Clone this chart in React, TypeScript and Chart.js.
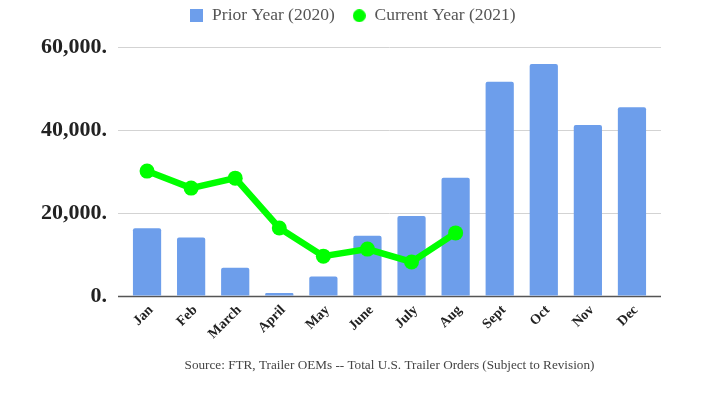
import React, { useEffect, useRef } from "react";
import { Chart, registerables } from "chart.js";

Chart.register(...registerables);

const months = ["Jan", "Feb", "March", "April", "May", "June", "July", "Aug", "Sept", "Oct", "Nov", "Dec"];
const priorYear2020 = [16300, 14100, 6800, 700, 4700, 14500, 19300, 28500, 51600, 55900, 41200, 45500];
const currentYear2021 = [30100, 26000, 28400, 16400, 9600, 11300, 8200, 15200];
const yTicks = [0, 20000, 40000, 60000];

const FONT = "'Liberation Serif', 'Times New Roman', serif";
const BAR_COLOR = "#6d9eeb";
const LINE_COLOR = "#00ff00";

function makeMarker(kind: "rect" | "circle", color: string) {
  const c = document.createElement("canvas");
  c.width = 13;
  c.height = 13;
  const g = c.getContext("2d")!;
  g.fillStyle = color;
  if (kind === "rect") {
    g.fillRect(0, 0, 13, 13);
  } else {
    g.beginPath();
    g.arc(6.5, 6.5, 6.5, 0, Math.PI * 2);
    g.fill();
  }
  return c;
}

const gridPlugin = {
  id: "extendedGrid",
  beforeDatasetsDraw(chart: any) {
    const { ctx, chartArea, scales } = chart;
    const y = scales.y;
    ctx.save();
    yTicks.forEach((v) => {
      const py = Math.round(y.getPixelForValue(v)) + 0.5;
      ctx.beginPath();
      ctx.strokeStyle = v === 0 ? "#555" : "#d3d3d3";
      ctx.lineWidth = v === 0 ? 1.5 : 1;
      ctx.moveTo(chartArea.left - 7, py);
      ctx.lineTo(chartArea.right + 7, py);
      ctx.stroke();
    });
    ctx.restore();
  },
  beforeLayout(chart: any) {
    const lg = chart.legend;
    if (lg && !lg.__patched) {
      const orig = lg.fit;
      lg.fit = function () {
        orig.call(this);
        this.height = 58;
      };
      lg.__patched = true;
    }
  },
};

export default function App() {
  const ref = useRef<HTMLCanvasElement | null>(null);
  useEffect(() => {
    if (!ref.current) return;
    const markers = [makeMarker("rect", BAR_COLOR), makeMarker("circle", LINE_COLOR)];
    const chart = new Chart(ref.current, {
      type: "bar",
      plugins: [gridPlugin],
      data: {
        labels: months,
        datasets: [
          {
            type: "bar",
            label: "Prior Year (2020)",
            data: priorYear2020,
            backgroundColor: BAR_COLOR,
            borderRadius: 2,
            barPercentage: 0.64,
            categoryPercentage: 1,
            order: 1,
          } as any,
          {
            type: "line",
            label: "Current Year (2021)",
            data: currentYear2021,
            borderColor: LINE_COLOR,
            backgroundColor: LINE_COLOR,
            borderWidth: 6.5,
            pointRadius: 7.5,
            pointBackgroundColor: LINE_COLOR,
            pointBorderWidth: 0,
            order: 0,
          } as any,
        ],
      },
      options: {
        responsive: false,
        animation: false,
        layout: { padding: { top: -11, right: 0, left: 0, bottom: 0 } },
        plugins: {
          tooltip: { enabled: false },
          legend: {
            position: "top",
            labels: {
              usePointStyle: true,
              boxWidth: 13,
              boxHeight: 13,
              padding: 18,
              color: "#555",
              font: { family: FONT, size: 17.5 },
              sort: (a: any, b: any) => a.datasetIndex - b.datasetIndex,
              generateLabels: (ch: any) => {
                const items = Chart.defaults.plugins.legend.labels.generateLabels(ch);
                items.forEach((it: any) => {
                  it.pointStyle = markers[it.datasetIndex];
                });
                return items;
              },
            },
          },
        },
        scales: {
          x: {
            grid: { display: false, drawTicks: false },
            border: { display: false },
            ticks: {
              minRotation: 45,
              maxRotation: 45,
              padding: 6,
              labelOffset: 4,
              color: "#222",
              font: { family: FONT, size: 14, weight: "bold" },
            },
            title: {
              display: true,
              text: "Source: FTR, Trailer OEMs -- Total U.S. Trailer Orders (Subject to Revision)",
              color: "#444",
              font: { family: FONT, size: 13.2 },
              padding: { top: 0, bottom: 24 },
            },
            afterFit: (scale: any) => {
              scale.height = 101;
            },
          },
          y: {
            min: 0,
            max: 60000,
            border: { display: false },
            grid: { color: "rgba(0,0,0,0)", drawTicks: false },
            afterBuildTicks: (scale: any) => {
              scale.ticks = yTicks.map((v) => ({ value: v }));
            },
            ticks: {
              padding: 18,
              color: "#222",
              font: { family: FONT, size: 22, weight: "bold" },
              callback: (v: any) => Number(v).toLocaleString("en-US") + ".",
            },
            afterFit: (scale: any) => {
              scale.width = 125;
            },
          },
          yRight: {
            type: "linear",
            position: "right",
            display: true,
            grid: { display: false, drawTicks: false },
            border: { display: false },
            ticks: { display: false },
            afterFit: (scale: any) => {
              scale.width = 52;
            },
          },
        },
      },
    });
    return () => chart.destroy();
  }, []);
  return (
    <div style={{ position: "absolute", left: 0, top: 0, width: 706, height: 397, background: "#fff" }}>
      <canvas ref={ref} width={706} height={397} />
    </div>
  );
}
